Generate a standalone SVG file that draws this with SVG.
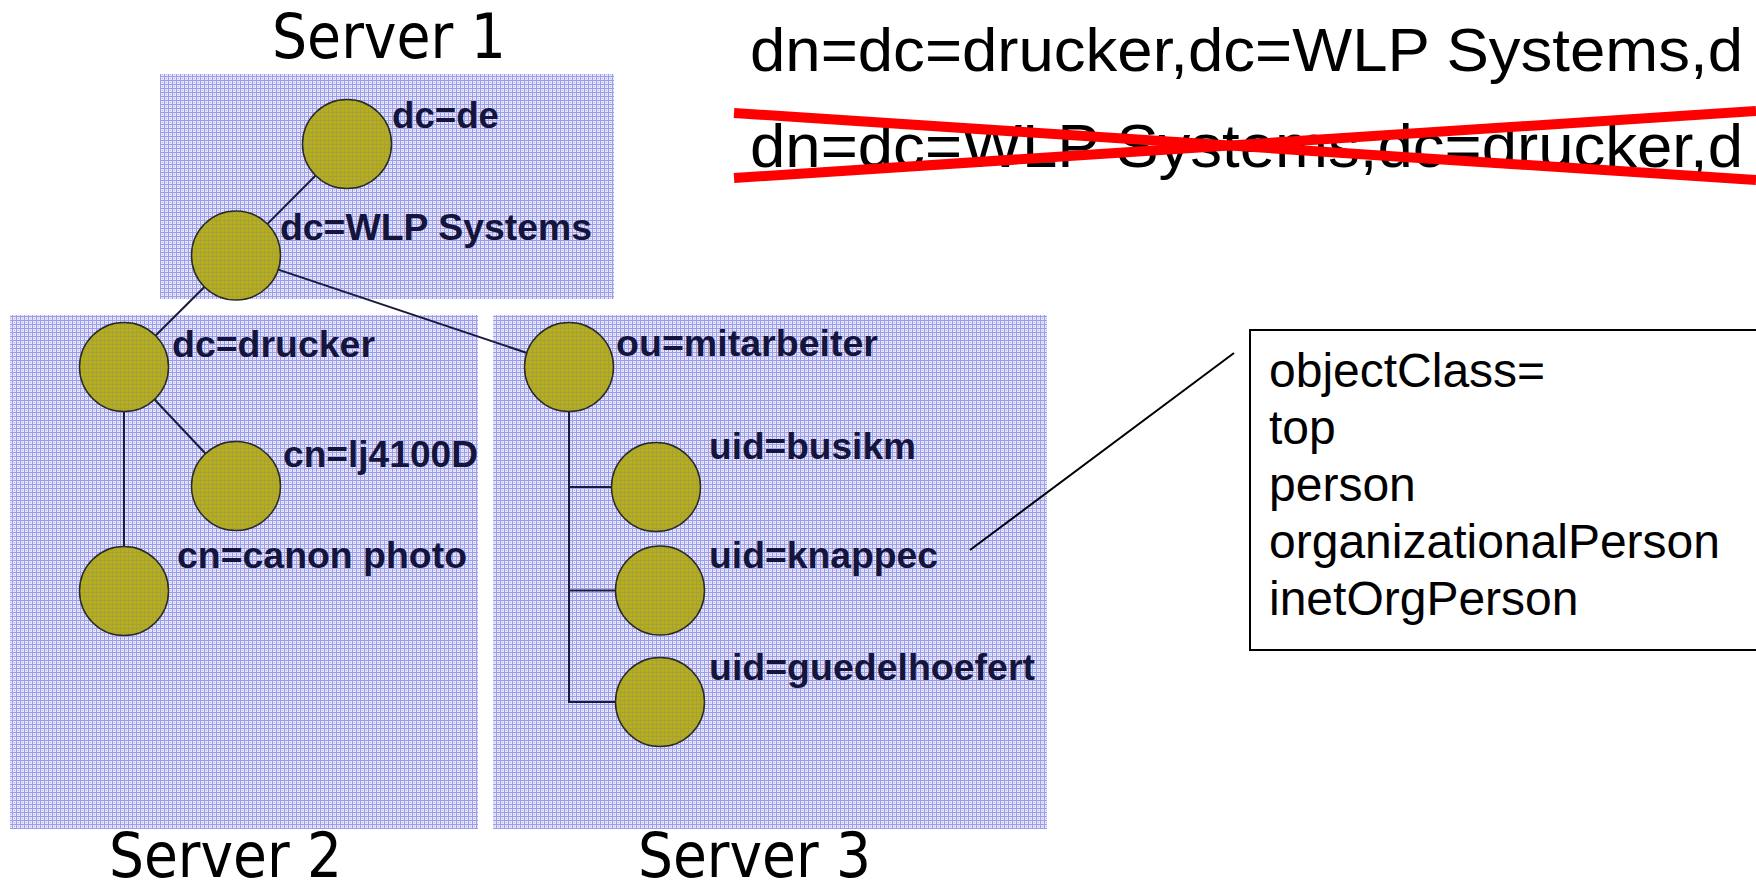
<svg xmlns="http://www.w3.org/2000/svg" width="1756" height="886" viewBox="0 0 1756 886">
  <defs>
    <!-- fine blue grid used as the server area fill -->
    <pattern id="grid" width="4" height="4" patternUnits="userSpaceOnUse">
      <rect width="4" height="4" fill="#e6e6fb"/>
      <rect x="0" y="0" width="4" height="1" fill="#9c9cec"/>
      <rect x="0" y="0" width="1" height="4" fill="#9c9cec"/>
      <rect x="2" y="2" width="1" height="1" fill="#bcbcf2"/>
    </pattern>
    <!-- olive fill with a faint texture for directory entries -->
    <pattern id="olive" width="4" height="4" patternUnits="userSpaceOnUse">
      <rect width="4" height="4" fill="#b6ae1a"/>
      <rect x="0" y="0" width="4" height="1" fill="#a6a03a"/>
      <rect x="0" y="0" width="1" height="4" fill="#a6a03a"/>
    </pattern>
  </defs>
  <style>
    .area { fill: url(#grid); }
    .entry { fill: url(#olive); stroke: #2a2a2a; stroke-width: 1.5; }
    .lbl { font-family: "Liberation Sans", Arial, sans-serif; font-weight: bold; font-size: 36px; fill: #15153c; }
    .srv { font-family: "DejaVu Sans Condensed", "DejaVu Sans", sans-serif; font-stretch: condensed; font-size: 62px; fill: #000; }
    .dn { font-family: "Liberation Sans", Arial, sans-serif; font-size: 62px; fill: #000; }
    .oc { font-family: "Liberation Sans", Arial, sans-serif; font-size: 48px; fill: #000; }
    .link { stroke: #1a1a3a; stroke-width: 2; fill: none; }
    .strike { stroke: #ff0000; stroke-width: 10; }
  </style>

  <rect width="1756" height="886" fill="#ffffff"/>

  <!-- server partitions -->
  <g id="server1">
    <rect class="area" x="160" y="74" width="454" height="225"/>
    <text class="srv" x="272" y="58" textLength="234" lengthAdjust="spacingAndGlyphs">Server 1</text>
  </g>
  <g id="server2">
    <rect class="area" x="10" y="315" width="468" height="514"/>
    <text class="srv" x="109" y="877" textLength="233" lengthAdjust="spacingAndGlyphs">Server 2</text>
  </g>
  <g id="server3">
    <rect class="area" x="493" y="315" width="554" height="514"/>
    <text class="srv" x="638" y="877" textLength="233" lengthAdjust="spacingAndGlyphs">Server 3</text>
  </g>

  <!-- distinguished names, the second one struck out -->
  <g id="dn-valid">
    <text class="dn" x="750" y="71" textLength="993" lengthAdjust="spacingAndGlyphs">dn=dc=drucker,dc=WLP Systems,d</text>
  </g>
  <g id="dn-invalid">
    <text class="dn" x="750" y="167" textLength="993" lengthAdjust="spacingAndGlyphs">dn=dc=WLP Systems,dc=drucker,d</text>
    <line class="strike" x1="734" y1="113" x2="1756" y2="180"/>
    <line class="strike" x1="734" y1="178" x2="1756" y2="111"/>
  </g>

  <!-- tree edges -->
  <g id="connectors">
    <line class="link" x1="347" y1="144" x2="236" y2="255.5"/>
    <line class="link" x1="236" y1="255.5" x2="124" y2="367"/>
    <line class="link" x1="236" y1="255.5" x2="569" y2="367"/>
    <line class="link" x1="124" y1="367" x2="236" y2="486"/>
    <line class="link" x1="124" y1="367" x2="124" y2="591"/>
    <path class="link" d="M569 367 V702 H660 M569 487 H656 M569 590.5 H660"/>
    <line stroke="#000" stroke-width="2" x1="970" y1="550" x2="1234" y2="353"/>
  </g>

  <!-- directory entries -->
  <g id="node-dc-de">
    <circle class="entry" cx="347" cy="144" r="44.5"/>
    <text class="lbl" x="392" y="128" textLength="107" lengthAdjust="spacingAndGlyphs">dc=de</text>
  </g>
  <g id="node-dc-wlp">
    <circle class="entry" cx="236" cy="255.5" r="44.5"/>
    <text class="lbl" x="280" y="240" textLength="312" lengthAdjust="spacingAndGlyphs">dc=WLP Systems</text>
  </g>
  <g id="node-dc-drucker">
    <circle class="entry" cx="124" cy="367" r="44.5"/>
    <text class="lbl" x="172" y="357" textLength="203" lengthAdjust="spacingAndGlyphs">dc=drucker</text>
  </g>
  <g id="node-cn-lj4100d">
    <circle class="entry" cx="236" cy="486" r="44.5"/>
    <text class="lbl" x="283" y="467" textLength="195" lengthAdjust="spacingAndGlyphs">cn=lj4100D</text>
  </g>
  <g id="node-cn-canon">
    <circle class="entry" cx="124" cy="591" r="44.5"/>
    <text class="lbl" x="177" y="568" textLength="290" lengthAdjust="spacingAndGlyphs">cn=canon photo</text>
  </g>
  <g id="node-ou-mitarbeiter">
    <circle class="entry" cx="569" cy="367" r="44.5"/>
    <text class="lbl" x="616" y="356" textLength="262" lengthAdjust="spacingAndGlyphs">ou=mitarbeiter</text>
  </g>
  <g id="node-uid-busikm">
    <circle class="entry" cx="656" cy="487" r="44.5"/>
    <text class="lbl" x="709" y="459" textLength="207" lengthAdjust="spacingAndGlyphs">uid=busikm</text>
  </g>
  <g id="node-uid-knappec">
    <circle class="entry" cx="660" cy="590.5" r="44.5"/>
    <text class="lbl" x="709" y="568" textLength="229" lengthAdjust="spacingAndGlyphs">uid=knappec</text>
  </g>
  <g id="node-uid-guedelhoefert">
    <circle class="entry" cx="660" cy="702" r="44.5"/>
    <text class="lbl" x="709" y="680" textLength="326" lengthAdjust="spacingAndGlyphs">uid=guedelhoefert</text>
  </g>

  <!-- object classes of a person entry -->
  <g id="objectclass-box">
    <rect x="1250" y="330" width="520" height="320" fill="#ffffff" stroke="#000" stroke-width="2"/>
    <text class="oc" x="1269" y="387">objectClass=</text>
    <text class="oc" x="1269" y="444">top</text>
    <text class="oc" x="1269" y="501">person</text>
    <text class="oc" x="1269" y="558">organizationalPerson</text>
    <text class="oc" x="1269" y="615">inetOrgPerson</text>
  </g>
</svg>
